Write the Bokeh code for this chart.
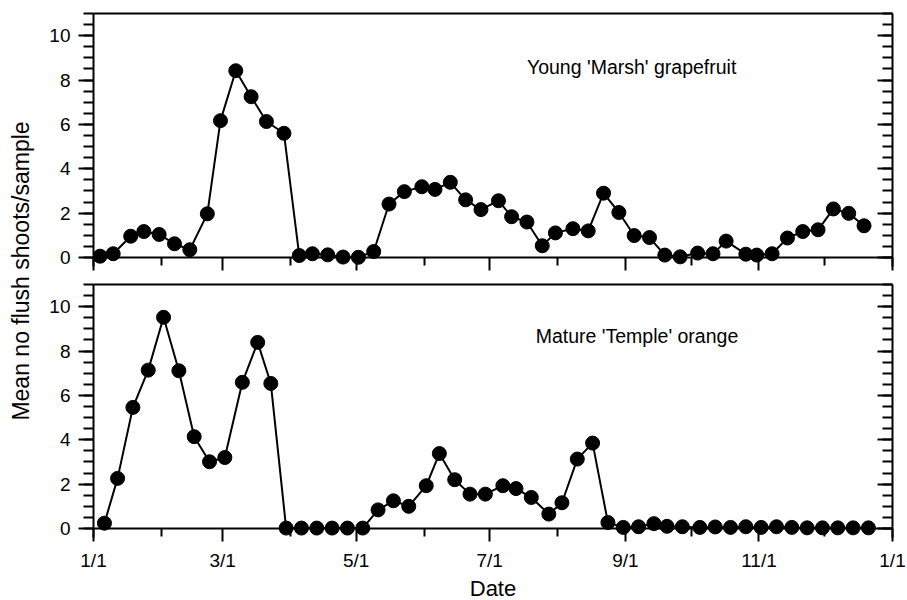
import math
from bokeh.plotting import figure
from bokeh.models import Range1d, FixedTicker, LinearAxis, Span, Label, CustomJSTickFormatter
from bokeh.layouts import row, column
from bokeh.embed import file_html
from bokeh.resources import INLINE

# ---- data (x = day of year, 0 = Jan 1) ----
grapefruit_days = [3, 9, 17, 23, 30, 37, 44, 52, 58, 65, 72, 79, 87, 94, 100, 107, 114, 121,
                   128, 135, 142, 150, 156, 163, 170, 177, 185, 191, 198, 205, 211, 219, 226,
                   233, 240, 247, 254, 261, 268, 276, 283, 289, 298, 303, 310, 317, 324, 331,
                   338, 345, 352]
grapefruit_vals = [0.06, 0.17, 0.96, 1.17, 1.04, 0.62, 0.35, 1.97, 6.17, 8.42, 7.25, 6.13, 5.6,
                   0.09, 0.17, 0.12, 0.02, 0.01, 0.27, 2.41, 2.97, 3.19, 3.07, 3.39, 2.6, 2.16,
                   2.56, 1.84, 1.6, 0.53, 1.11, 1.3, 1.2, 2.9, 2.03, 0.99, 0.9, 0.11, 0.03, 0.2,
                   0.17, 0.74, 0.15, 0.11, 0.17, 0.88, 1.17, 1.25, 2.19, 1.99, 1.43]

orange_days = [5, 11, 18, 25, 32, 39, 46, 53, 60, 68, 75, 81, 88, 95, 102, 109, 116, 123, 130,
               137, 144, 152, 158, 165, 172, 179, 187, 193, 200, 208, 214, 221, 228, 235, 242,
               249, 256, 262, 269, 277, 284, 291, 298, 305, 312, 319, 326, 333, 340, 347, 354]
orange_vals = [0.24, 2.26, 5.46, 7.14, 9.52, 7.11, 4.14, 3.01, 3.2, 6.59, 8.39, 6.54, 0.02, 0.02,
               0.02, 0.02, 0.02, 0.02, 0.84, 1.25, 1.0, 1.93, 3.38, 2.2, 1.55, 1.55, 1.93, 1.8,
               1.4, 0.65, 1.16, 3.13, 3.85, 0.27, 0.05, 0.08, 0.22, 0.1, 0.08, 0.05, 0.07, 0.05,
               0.08, 0.05, 0.08, 0.05, 0.03, 0.03, 0.03, 0.03, 0.03]

x_major_ticks = [0, 59, 120, 181, 243, 304, 365]
x_major_labels = ["1/1", "3/1", "5/1", "7/1", "9/1", "11/1", "1/1"]
x_minor_ticks = [31, 90, 151, 212, 273, 334]
y_major_ticks = [0, 2, 4, 6, 8, 10]
y_minor_ticks = [i * 0.5 for i in range(23)]

panel_titles = ["Young 'Marsh' grapefruit", "Mature 'Temple' orange"]
y_title = "Mean no flush shoots/sample"
x_title = "Date"

FONT = "Liberation Sans"


def blank():
    return CustomJSTickFormatter(code="return ''")


def make_panel(days, vals, note, note_x, note_y, mbt, mbb, bottom_labels):
    p = figure(frame_width=799, frame_height=253, x_range=Range1d(0, 365),
               y_range=Range1d(-0.405, 11),
               x_axis_type=None, y_axis_type=None, output_backend="svg", toolbar_location=None,
               min_border_left=44, min_border_right=18, min_border_top=mbt, min_border_bottom=mbb)
    p.outline_line_color = None
    p.grid.visible = False
    p.background_fill_color = "white"

    left = LinearAxis(ticker=FixedTicker(ticks=y_major_ticks, minor_ticks=y_minor_ticks),
                      major_tick_out=15, major_tick_in=0, minor_tick_out=10,
                      minor_tick_in=0, axis_line_width=2, major_tick_line_width=2,
                      minor_tick_line_width=2, major_label_standoff=8,
                      major_label_text_font=FONT, major_label_text_font_size="19px",
                      major_label_text_color="black")
    p.add_layout(left, "left")
    right = LinearAxis(ticker=FixedTicker(ticks=y_major_ticks, minor_ticks=y_minor_ticks),
                       major_tick_out=0, major_tick_in=15, minor_tick_out=0, minor_tick_in=10,
                       axis_line_width=2, major_tick_line_width=2, minor_tick_line_width=2,
                       major_label_standoff=0, formatter=blank(),
                       major_label_text_font_size="1px")
    p.add_layout(right, "right")
    top = LinearAxis(ticker=FixedTicker(ticks=[]), major_tick_out=0, major_tick_in=0,
                     minor_tick_out=0, minor_tick_in=0, axis_line_width=2,
                     major_label_standoff=0, formatter=blank(),
                     major_label_text_font_size="1px")
    p.add_layout(top, "above")

    bottom = LinearAxis(ticker=FixedTicker(ticks=x_major_ticks, minor_ticks=x_minor_ticks),
                        axis_line_color=None, major_tick_in=9, major_tick_out=4,
                        minor_tick_in=9, minor_tick_out=-1, major_tick_line_width=2,
                        minor_tick_line_width=2)
    if bottom_labels:
        bottom.major_label_overrides = {t: l for t, l in zip(x_major_ticks, x_major_labels)}
        bottom.major_label_text_font = FONT
        bottom.major_label_text_font_size = "19px"
        bottom.major_label_text_color = "black"
        bottom.major_label_standoff = 8
        bottom.axis_label = x_title
        bottom.axis_label_text_font = FONT
        bottom.axis_label_text_font_size = "22px"
        bottom.axis_label_text_font_style = "normal"
        bottom.axis_label_text_color = "black"
        bottom.axis_label_standoff = 2
    else:
        bottom.formatter = blank()
        bottom.major_label_text_font_size = "1px"
        bottom.major_label_standoff = 0
    p.add_layout(bottom, "below")

    p.add_layout(Span(location=0, dimension="width", line_color="black", line_width=2,
                      level="underlay"))
    p.line(days, vals, line_color="black", line_width=2)
    p.scatter(days, vals, size=14, fill_color="black", line_color="black")
    p.add_layout(Label(x=note_x, y=note_y, text=note, text_font=FONT, text_font_size="19.5px",
                       text_align="left", text_baseline="alphabetic", text_color="black"))
    return p


top_p = make_panel(grapefruit_days, grapefruit_vals, panel_titles[0], 198, 8.6, 13, 5, False)
bot_p = make_panel(orange_days, orange_vals, panel_titles[1], 202, 8.69, 13, 63, True)

lab = figure(width=46, height=600, x_range=Range1d(0, 46), y_range=Range1d(0, 600),
             x_axis_type=None, y_axis_type=None, output_backend="svg", toolbar_location=None,
             min_border=0)
lab.outline_line_color = None
lab.grid.visible = False
lab.add_layout(Label(x=20, y=329.5, text=y_title, angle=math.pi / 2, text_font=FONT,
                     text_font_size="23px", text_align="center", text_baseline="middle",
                     text_color="black"))

layout = row(lab, column(top_p, bot_p))
open("out.html", "w").write(file_html(layout, INLINE))
